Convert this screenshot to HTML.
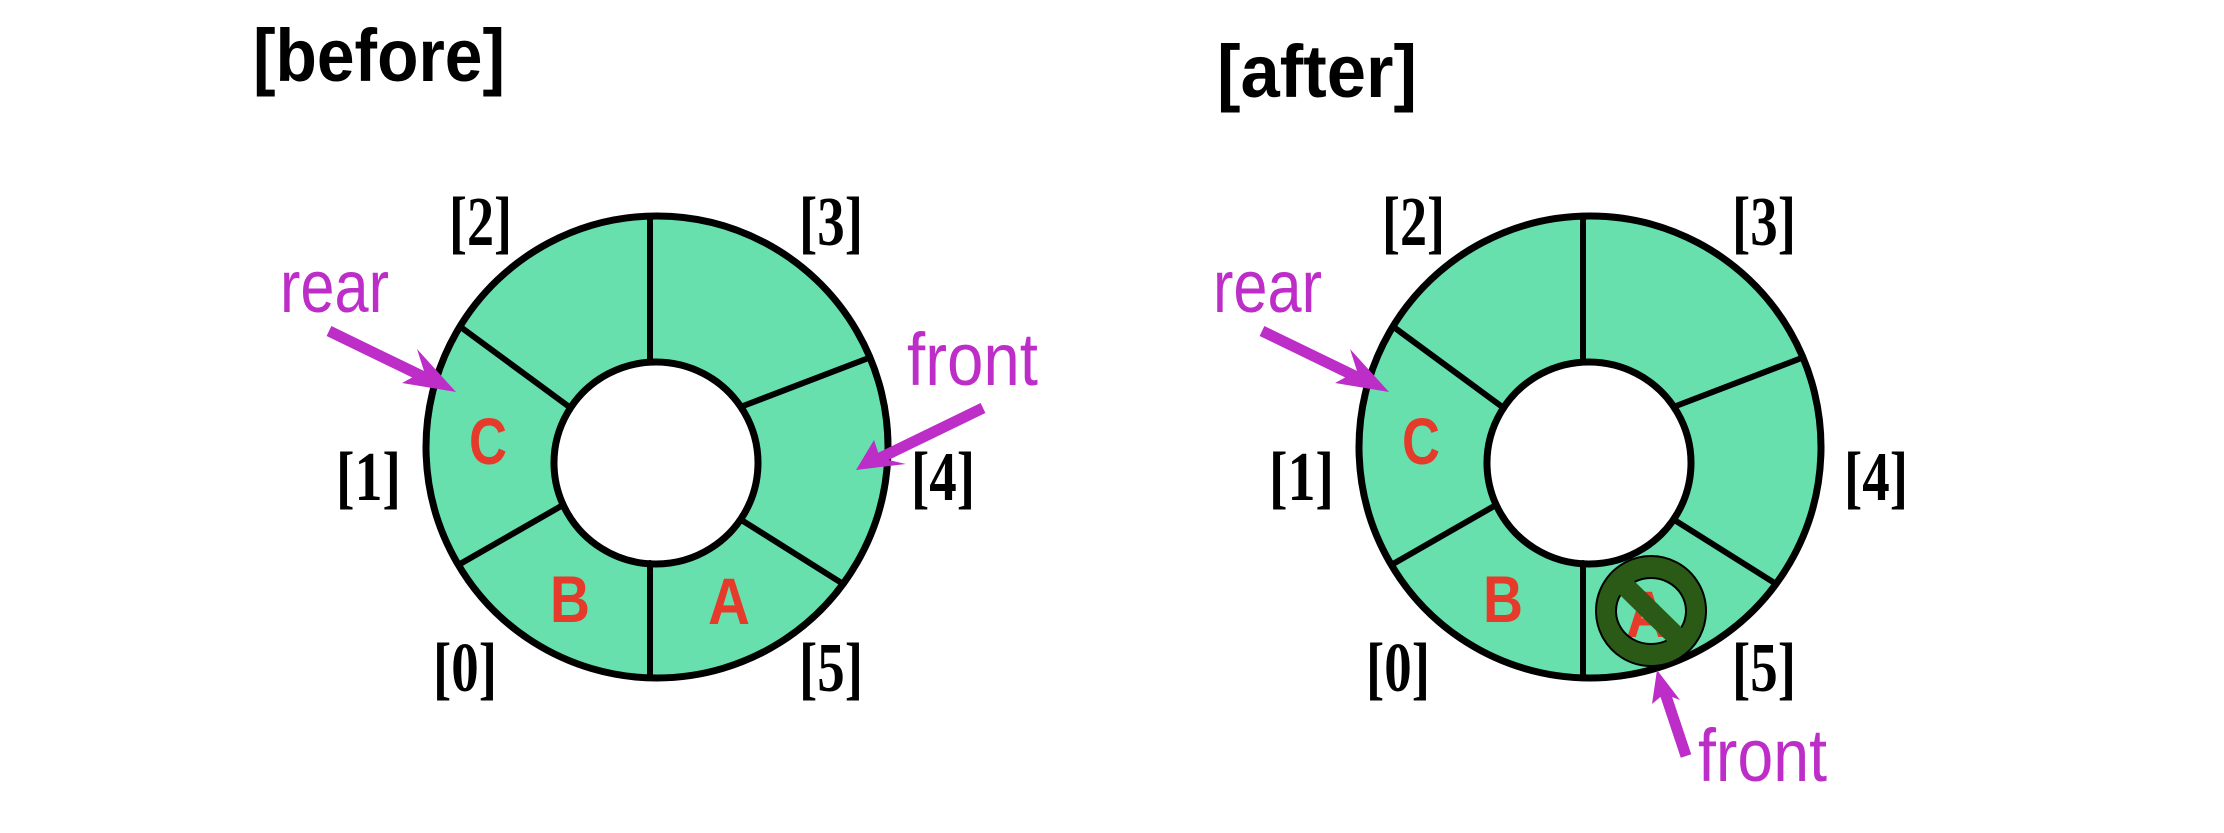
<!DOCTYPE html>
<html><head><meta charset="utf-8"><style>
html,body{margin:0;padding:0;background:#fff;}
svg{display:block;}
.t{font-family:"Liberation Sans Narrow","Liberation Sans",sans-serif;font-weight:bold;}
.idx{font-family:"Liberation Serif",serif;font-weight:bold;font-size:70px;fill:#000;}
.ptr{font-family:"Liberation Sans Narrow","Liberation Sans",sans-serif;font-size:74px;fill:#bd2dc8;}
.let{font-family:"Liberation Sans",sans-serif;font-weight:bold;font-size:66px;fill:#e63a2b;}
</style></head><body>
<svg width="2224" height="833" viewBox="0 0 2224 833" xmlns="http://www.w3.org/2000/svg">
<defs>
<g id="ring">
  <path d="M657,216 a231,231 0 1,0 0.01,0 Z M656,362 a102,101 0 1,1 -0.01,0 Z" fill="#67e0ad" fill-rule="evenodd" stroke="#000" stroke-width="7"/>
  <g stroke="#000" stroke-width="6" stroke-linecap="round">
    <line x1="650" y1="218" x2="650" y2="362"/>
    <line x1="650" y1="563" x2="650" y2="676"/>
    <line x1="462" y1="328" x2="568" y2="406"/>
    <line x1="460" y1="564" x2="563" y2="505"/>
    <line x1="866" y1="359" x2="743" y2="406"/>
    <line x1="840" y1="582" x2="743" y2="521"/>
  </g>
  <text class="idx" x="449" y="245" textLength="63" lengthAdjust="spacingAndGlyphs">[2]</text>
  <text class="idx" x="799" y="245" textLength="64" lengthAdjust="spacingAndGlyphs">[3]</text>
  <text class="idx" x="336" y="500" textLength="65" lengthAdjust="spacingAndGlyphs">[1]</text>
  <text class="idx" x="911" y="500" textLength="64" lengthAdjust="spacingAndGlyphs">[4]</text>
  <text class="idx" x="433" y="691" textLength="64" lengthAdjust="spacingAndGlyphs">[0]</text>
  <text class="idx" x="799" y="691" textLength="64" lengthAdjust="spacingAndGlyphs">[5]</text>
  <text class="let" x="488" y="464" text-anchor="middle" textLength="38" lengthAdjust="spacingAndGlyphs">C</text>
  <text class="let" x="570" y="622" text-anchor="middle" textLength="40" lengthAdjust="spacingAndGlyphs">B</text>
  <text class="ptr" x="280" y="312" textLength="109" lengthAdjust="spacingAndGlyphs">rear</text>
  <line x1="329" y1="331" x2="430" y2="380" stroke="#bd2dc8" stroke-width="11"/>
  <polygon points="456,392 402,383 424,371 417,349" fill="#bd2dc8"/>
</g>
</defs>

<g>
  <text class="t" x="253" y="81" font-size="74" textLength="252" lengthAdjust="spacingAndGlyphs">[before]</text>
  <use href="#ring"/>
  <text class="let" x="729" y="624" text-anchor="middle" textLength="42" lengthAdjust="spacingAndGlyphs">A</text>
  <text class="ptr" x="907" y="385" textLength="131" lengthAdjust="spacingAndGlyphs">front</text>
  <line x1="983" y1="408" x2="880" y2="458" stroke="#bd2dc8" stroke-width="11"/>
  <polygon points="856,470 874,440 880,458 906,464" fill="#bd2dc8"/>
</g>

<g >
  <text class="t" x="1217" y="97" font-size="74" textLength="200" lengthAdjust="spacingAndGlyphs">[after]</text>
  <g transform="translate(933,0)"><use href="#ring"/></g>
  <text class="let" x="1647" y="637" text-anchor="middle" textLength="42" lengthAdjust="spacingAndGlyphs">A</text>
  <g>
    <path d="M1651,556 a55,55 0 1,0 0.01,0 Z M1651,578 a35,33 0 1,1 -0.01,0 Z" fill="#2b5a17" fill-rule="evenodd" stroke="#000" stroke-width="2"/>
    <line x1="1624" y1="585" x2="1678" y2="638" stroke="#2b5a17" stroke-width="20"/>
  </g>
  <line x1="1686" y1="756" x2="1664" y2="690" stroke="#bd2dc8" stroke-width="11"/>
  <polygon points="1657,670 1680,700 1664,694 1652,704" fill="#bd2dc8"/>
  <text class="ptr" x="1698" y="781" textLength="129" lengthAdjust="spacingAndGlyphs">front</text>
</g>
</svg>
</body></html>
